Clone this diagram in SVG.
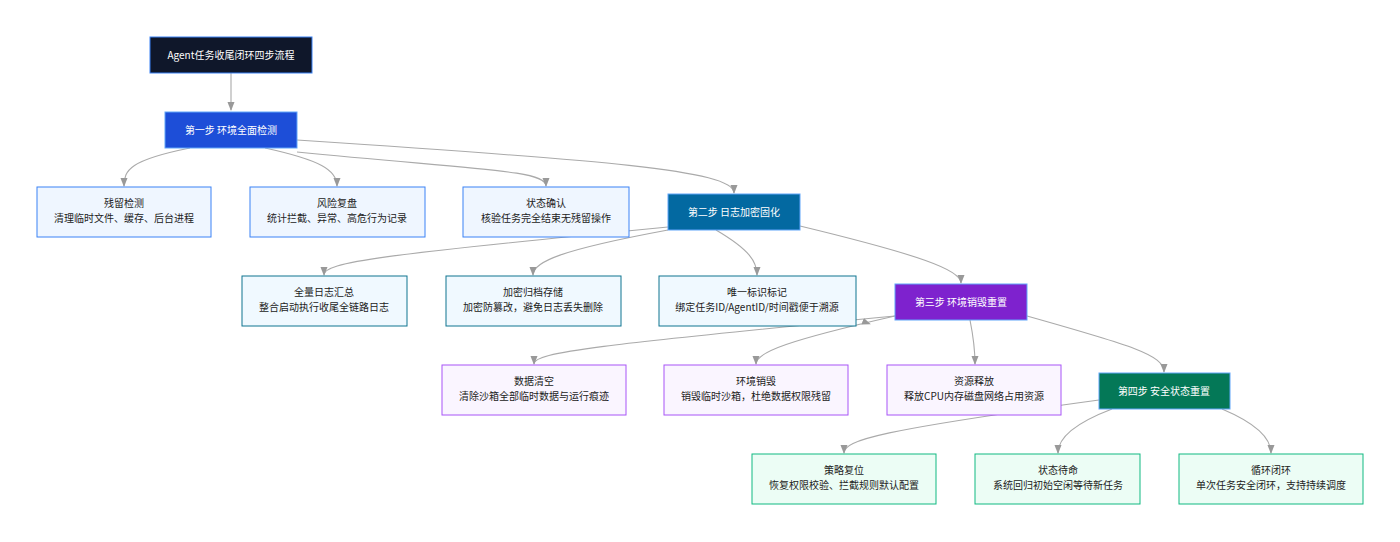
<svg xmlns="http://www.w3.org/2000/svg" width="1400" height="542" viewBox="0 0 1400 542">
<style>
text{font-family:"Noto Sans CJK SC","Noto Sans",sans-serif;font-size:10px;text-anchor:middle;fill:#222}
.w{fill:#fff}
.e{fill:none;stroke:#aaa;stroke-width:1.1}
.b1{fill:#eff6ff;stroke:#3b82f6}
.b2{fill:#f0f9ff;stroke:#0e7490}
.b3{fill:#faf5ff;stroke:#a855f7}
.b4{fill:#ecfdf5;stroke:#10b981}
</style>
<defs><marker id="a" viewBox="0 0 10 10" refX="9" refY="5" markerWidth="8" markerHeight="8" orient="auto"><path d="M0,1L10,5L0,9z" fill="#999"/></marker></defs>
<rect width="1400" height="542" fill="#fff"/>
<g id="connectors">
<path class="e" marker-end="url(#a)" d="M231,73L231,110"/>
<path class="e" marker-end="url(#a)" d="M190,148C130,160 124,170 124,186"/>
<path class="e" marker-end="url(#a)" d="M265,148C320,160 337,170 337,186"/>
<path class="e" marker-end="url(#a)" d="M297,152C480,170 546,170 546,186"/>
<path class="e" marker-end="url(#a)" d="M297,140C600,160 734,170 734,193"/>
<path class="e" marker-end="url(#a)" d="M668,227C380,255 324,262 324,275"/>
<path class="e" marker-end="url(#a)" d="M668,230C560,250 533,262 533,275"/>
<path class="e" marker-end="url(#a)" d="M716,230C750,250 757,262 757,275"/>
<path class="e" marker-end="url(#a)" d="M800,226C920,255 961,270 961,283"/>
<path class="e" marker-end="url(#a)" d="M895,316C600,345 534,352 534,364"/>
<path class="e" marker-end="url(#a)" d="M895,316C790,340 756,352 756,364"/>
<path class="e" marker-end="url(#a)" d="M870,324"/>
<path class="e" marker-end="url(#a)" d="M970,320C974,340 975,352 975,364"/>
<path class="e" marker-end="url(#a)" d="M1027,316C1130,345 1164,355 1164,372"/>
<path class="e" marker-end="url(#a)" d="M1099,400C880,430 844,440 844,453"/>
<path class="e" marker-end="url(#a)" d="M1112,409C1070,425 1058,440 1058,453"/>
<path class="e" marker-end="url(#a)" d="M1222,409C1260,425 1271,440 1271,453"/>
</g>
<g id="title"><rect x="150" y="37" width="162" height="36" fill="#0f172a" stroke="#3b82f6"/><text class="w" x="231" y="59">Agent任务收尾闭环四步流程</text></g>
<g id="s1"><rect x="165" y="112" width="132" height="36" fill="#1d4ed8" stroke="#60a5fa"/><text class="w" x="231" y="134">第一步 环境全面检测</text></g>
<g id="n11"><rect class="b1" x="37" y="187" width="174" height="50"/><text x="124" y="207">残留检测</text><text x="124" y="222">清理临时文件、缓存、后台进程</text></g>
<g id="n12"><rect class="b1" x="250" y="187" width="175" height="50"/><text x="337" y="207">风险复盘</text><text x="337" y="222">统计拦截、异常、高危行为记录</text></g>
<g id="n13"><rect class="b1" x="463" y="187" width="166" height="50"/><text x="546" y="207">状态确认</text><text x="546" y="222">核验任务完全结束无残留操作</text></g>
<g id="s2"><rect x="668" y="194" width="132" height="36" fill="#0369a1" stroke="#60a5fa"/><text class="w" x="734" y="216">第二步 日志加密固化</text></g>
<g id="n21"><rect class="b2" x="242" y="276" width="165" height="50"/><text x="324" y="296">全量日志汇总</text><text x="324" y="311">整合启动执行收尾全链路日志</text></g>
<g id="n22"><rect class="b2" x="446" y="276" width="175" height="50"/><text x="533" y="296">加密归档存储</text><text x="533" y="311">加密防篡改，避免日志丢失删除</text></g>
<g id="n23"><rect class="b2" x="659" y="276" width="197" height="50"/><text x="757" y="296">唯一标识标记</text><text x="757" y="311">绑定任务ID/AgentID/时间戳便于溯源</text></g>
<g id="s3"><rect x="895" y="284" width="132" height="36" fill="#7e22ce" stroke="#60a5fa"/><text class="w" x="961" y="306">第三步 环境销毁重置</text></g>
<g id="n31"><rect class="b3" x="442" y="365" width="184" height="50"/><text x="534" y="385">数据清空</text><text x="534" y="400">清除沙箱全部临时数据与运行痕迹</text></g>
<g id="n32"><rect class="b3" x="664" y="365" width="184" height="50"/><text x="756" y="385">环境销毁</text><text x="756" y="400">销毁临时沙箱，杜绝数据权限残留</text></g>
<g id="n33"><rect class="b3" x="887" y="365" width="174" height="50"/><text x="974" y="385">资源释放</text><text x="974" y="400">释放CPU内存磁盘网络占用资源</text></g>
<g id="s4"><rect x="1099" y="373" width="131" height="36" fill="#047857" stroke="#60a5fa"/><text class="w" x="1164" y="395">第四步 安全状态重置</text></g>
<g id="n41"><rect class="b4" x="752" y="454" width="184" height="50"/><text x="844" y="474">策略复位</text><text x="844" y="489">恢复权限校验、拦截规则默认配置</text></g>
<g id="n42"><rect class="b4" x="975" y="454" width="165" height="50"/><text x="1058" y="474">状态待命</text><text x="1058" y="489">系统回归初始空闲等待新任务</text></g>
<g id="n43"><rect class="b4" x="1179" y="454" width="184" height="50"/><text x="1271" y="474">循环闭环</text><text x="1271" y="489">单次任务安全闭环，支持持续调度</text></g>
</svg>
